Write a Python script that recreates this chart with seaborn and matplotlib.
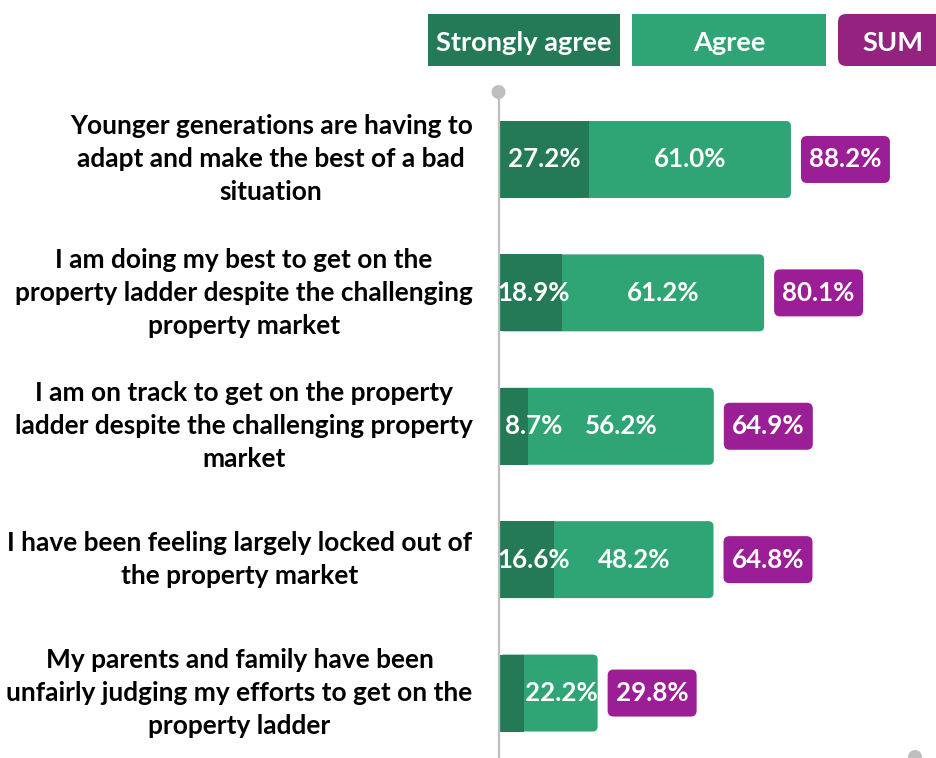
import matplotlib
matplotlib.use("Agg")
import matplotlib.pyplot as plt
from matplotlib.patches import FancyBboxPatch, Circle
import seaborn as sns
import pandas as pd

# ---- data -------------------------------------------------------------
statements = [
    "Younger generations are having to\nadapt and make the best of a bad\nsituation",
    "I am doing my best to get on the\nproperty ladder despite the challenging\nproperty market",
    "I am on track to get on the property\nladder despite the challenging property\nmarket",
    "I have been feeling largely locked out of\nthe property market",
    "My parents and family have been\nunfairly judging my efforts to get on the\nproperty ladder",
]
strongly_agree = [27.2, 18.9, 8.7, 16.6, 7.6]
agree = [61.0, 61.2, 56.2, 48.2, 22.2]
total = [88.2, 80.1, 64.9, 64.8, 29.8]
legend_labels = ["Strongly agree", "Agree", "SUM"]

# ---- style ------------------------------------------------------------
C_STRONG = "#247A56"
C_AGREE = "#2FA474"
C_SUM = "#9B1E96"
C_SUM_HEAD = "#94237F"
C_AXIS = "#BFBFBF"

sns.set_theme(style="white")
plt.rcParams["font.family"] = ["Lato", "DejaVu Sans"]
plt.rcParams["font.weight"] = "bold"

W, H, DPI = 936, 758, 100
FS_CAT = 18.9
FS_VAL = 18.6
FS_HEAD = 19.6

fig = plt.figure(figsize=(W / DPI, H / DPI), dpi=DPI)
ax_left, ax_top = 499, 92
ax = fig.add_axes([ax_left / W, 0, (W - ax_left) / W, (H - ax_top) / H])

df = pd.DataFrame({
    "statement": statements,
    "Strongly agree": strongly_agree,
    "Agree": agree,
    "SUM": total,
})

BAR_W = 0.577
# full bar (strongly agree + agree) in the agree colour, strongly agree on top
sns.barplot(data=df, x="SUM", y="statement", color=C_AGREE, width=BAR_W,
            saturation=1, ax=ax, orient="h", linewidth=0, edgecolor="none")
n = len(statements)
total_bars = list(ax.patches[:n])
sns.barplot(data=df, x="Strongly agree", y="statement", color=C_STRONG,
            width=BAR_W, saturation=1, ax=ax, orient="h", linewidth=0,
            edgecolor="none")
strong_bars = list(ax.patches[n:])

PX_PER_PCT = 3.31
ax.set_xlim(0, (W - ax_left) / PX_PER_PCT)
ax.set_ylim(n - 1 + 0.487, -0.506)

# pixel sizes of one data unit on each axis
x0d, y0d = ax.transData.transform((0, 0))
x1d, y1d = ax.transData.transform((1, 1))
px_x = abs(x1d - x0d)
px_y = abs(y1d - y0d)
aspect = px_x / px_y

# round the right end of the stacked bars
for p in total_bars:
    x, y, w, h = p.get_x(), p.get_y(), p.get_width(), p.get_height()
    p.remove()
    ax.add_patch(FancyBboxPatch((x, y), w, h,
                                boxstyle=f"round,pad=0,rounding_size={5 / px_x}",
                                mutation_aspect=aspect, fc=C_AGREE, ec="none",
                                lw=0, zorder=1))
for p in strong_bars:
    p.set_zorder(2)

# value labels
txt_kw = dict(color="white", fontsize=FS_VAL, fontweight="bold",
              va="center", zorder=5)
for i, (sa, ag, tot) in enumerate(zip(strongly_agree, agree, total)):
    if sa >= 8:
        ax.text(max(sa / 2, 10.5), i, f"{sa:.1f}%", ha="center", **txt_kw)
    ax.text(sa + ag / 2, i, f"{ag:.1f}%", ha="center", **txt_kw)
    bw, bh = 89 / px_x, 47 / px_y
    bx = tot + 10 / px_x
    ax.add_patch(FancyBboxPatch((bx, i - bh / 2), bw, bh,
                                boxstyle=f"round,pad=0,rounding_size={6 / px_x}",
                                mutation_aspect=aspect, fc=C_SUM, ec="none",
                                lw=0, zorder=3, clip_on=False))
    ax.text(bx + bw / 2, i, f"{tot:.1f}%", ha="center", **txt_kw)

# axes cosmetics
for s in ["top", "right", "bottom"]:
    ax.spines[s].set_visible(False)
ax.spines["left"].set_color(C_AXIS)
ax.spines["left"].set_linewidth(1.6)
ax.set_xticks([])
ax.set_xlabel("")
ax.set_ylabel("")
ax.tick_params(axis="y", length=0, pad=19)
for t in ax.get_yticklabels():
    t.set_fontsize(FS_CAT)
    t.set_fontweight("bold")
    t.set_color("black")
    t.set_multialignment("center")
    t.set_verticalalignment("center")
    t.set_linespacing(1.45)

# dots at the axis ends
def px_to_in(px, py):
    return px / DPI, (H - py) / DPI

fig.patches.append(Circle(px_to_in(498.5, 92), 7 / DPI, transform=fig.dpi_scale_trans,
                          fc=C_AXIS, ec="none"))
fig.patches.append(Circle(px_to_in(915, 757), 7 / DPI, transform=fig.dpi_scale_trans,
                          fc=C_AXIS, ec="none"))

# header keys
heads = [
    (legend_labels[0], 428, 620, C_STRONG, 0, 524),
    (legend_labels[1], 632, 826, C_AGREE, 0, 729),
    (legend_labels[2], 838, 975, C_SUM_HEAD, 8, 893),
]
for label, xl, xr, col, rad, tx in heads:
    x, y = px_to_in(xl, 66)
    style = f"round,pad=0,rounding_size={rad / DPI}" if rad else "square,pad=0"
    fig.patches.append(FancyBboxPatch((x, y), (xr - xl) / DPI, 52 / DPI,
                                      boxstyle=style, transform=fig.dpi_scale_trans,
                                      fc=col, ec="none", lw=0))
    fig.text(*px_to_in(tx, 41), label, transform=fig.dpi_scale_trans,
             ha="center", va="center_baseline", color="white", fontsize=FS_HEAD,
             fontweight="bold")

fig.savefig("out.png", dpi=DPI)
